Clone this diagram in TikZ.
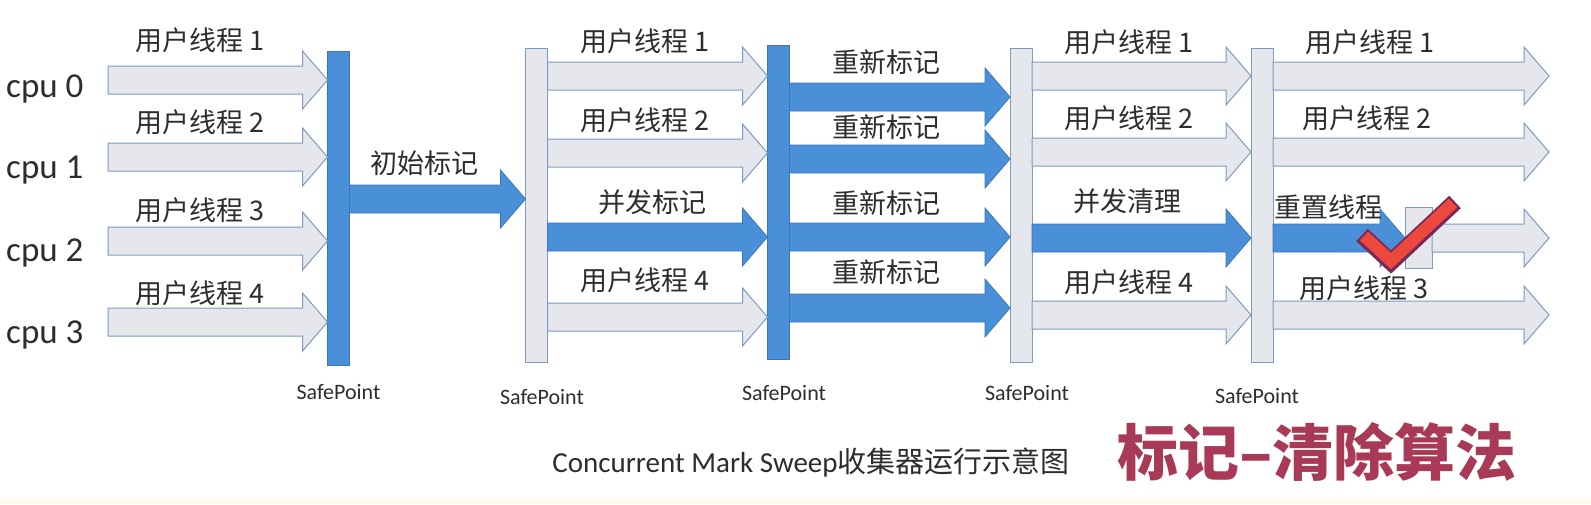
\documentclass[tikz,border=0pt]{standalone}
\usepackage{fontspec}
\setmainfont{Carlito}
\newfontfamily\cjk{Noto Sans CJK SC}
\usetikzlibrary{calc}

\definecolor{gcblue}{RGB}{74,144,217}
\definecolor{gcedge}{RGB}{58,118,188}
\definecolor{thfill}{RGB}{230,231,236}
\definecolor{thedge}{RGB}{125,155,192}
\definecolor{txt}{RGB}{45,45,45}
\definecolor{titlered}{RGB}{168,58,88}
\definecolor{tickred}{RGB}{236,72,62}
\definecolor{tickedge}{RGB}{120,40,90}
\definecolor{cream}{RGB}{254,250,232}

\tikzset{
  thread/.style={fill=thfill,draw=thedge,line width=1pt},
  gcflow/.style={fill=gcblue,draw=gcedge,line width=0.8pt},
  spbar/.style={minimum width=22pt,minimum height=314pt,inner sep=0pt,outer sep=0pt},
  tlabel/.style={font=\cjk\fontsize{27}{27}\selectfont,text=txt,inner sep=0pt},
  cpulabel/.style={font=\fontsize{35}{35}\selectfont,text=txt,inner sep=0pt,anchor=base west},
  splabel/.style={font=\fontsize{22}{22}\selectfont,text=txt,inner sep=0pt},
}
% fat arrow, #2 = start, #3 = tip (same height)
\newcommand\farrow[3]{%
  \path[#1] let \p1=#2, \p2=#3 in
    (\x1,\y1+14pt) -- (\x2-25pt,\y1+14pt) -- (\x2-25pt,\y1+29pt) -- (\x2,\y1)
    -- (\x2-25pt,\y1-29pt) -- (\x2-25pt,\y1-14pt) -- (\x1,\y1-14pt) -- cycle;}

\begin{document}
\begin{tikzpicture}[x=1pt,y=-1pt]
\useasboundingbox (0,0) rectangle (1591,504);
\fill[white] (0,0) rectangle (1591,504);
\fill[cream] (0,500) rectangle (1591,504);

% safepoints
\node[spbar,gcflow] (sp1) at (338.5,208) {};
\node[spbar,thread] (sp2) at (536.5,205) {};
\node[spbar,gcflow] (sp3) at (778.5,202.5) {};
\node[spbar,thread] (sp4) at (1021,205.5) {};
\node[spbar,thread] (sp5) at (1262,205.5) {};
\node[thread,minimum width=27pt,minimum height=61pt,inner sep=0pt,outer sep=0pt] (reset) at (1418.5,237.5) {};
\coordinate (rim) at (1549,0);

% cpus
\foreach \i/\r in {0/97,1/178,2/261,3/343}
  \node[cpulabel] (cpu\i) at (6,\r) {cpu \i};
\foreach \r in {80,157,241,322}
  \farrow{thread}{(108,\r)}{(sp1.west |- 0,\r)};
\foreach \i/\r in {1/40,2/122,3/210,4/293}
  \node[tlabel,anchor=west] (ua\i) at (135,\r) {用户线程 \i};

% initial mark
\farrow{gcflow}{(sp1.east |- 0,199)}{(sp2.west |- 0,199)};
\node[tlabel] (init) at (424,163) {初始标记};

% concurrent mark
\foreach \r in {76,153,317}
  \farrow{thread}{(sp2.east |- 0,\r)}{(sp3.west |- 0,\r)};
\farrow{gcflow}{(sp2.east |- 0,237)}{(sp3.west |- 0,237)};
\foreach \i/\r in {1/41,2/120,4/280}
  \node[tlabel,anchor=west] (ub\i) at (580,\r) {用户线程 \i};
\node[tlabel] (cmark) at (652,202) {并发标记};

% remark
\foreach \r in {97,159,237,308}
  \farrow{gcflow}{(sp3.east |- 0,\r)}{(sp4.west |- 0,\r)};
\foreach \i/\r in {1/62,2/127,3/203,4/272}
  \node[tlabel] (remark\i) at (886,\r) {重新标记};

% concurrent sweep
\foreach \r in {76,152,315}
  \farrow{thread}{(sp4.east |- 0,\r)}{(sp5.west |- 0,\r)};
\farrow{gcflow}{(sp4.east |- 0,238)}{(sp5.west |- 0,238)};
\foreach \i/\r in {1/42,2/118,4/282}
  \node[tlabel,anchor=west] (uc\i) at (1064,\r) {用户线程 \i};
\node[tlabel] (sweep) at (1127,201) {并发清理};

% reset
\foreach \r in {76,152,315}
  \farrow{thread}{(sp5.east |- 0,\r)}{(rim |- 0,\r)};
\farrow{gcflow}{(sp5.east |- 0,238)}{(reset.west |- 0,238)};
\farrow{thread}{(reset.east |- 0,238)}{(rim |- 0,238)};
\node[tlabel,anchor=west] (ud1) at (1305,42) {用户线程 1};
\node[tlabel,anchor=west] (ud2) at (1302,118) {用户线程 2};
\node[tlabel,anchor=west] (ud3) at (1299,288) {用户线程 3};
\node[tlabel] (rst) at (1328,207) {重置线程};

% tick
\draw[tickedge,line width=17pt] (1362,235) -- (1391,262) -- (1455,202);
\draw[tickred,line width=12pt] (1364,236) -- (1391,261) -- (1453,203);

% safepoint labels
\node[splabel] (spt1) at (sp1.south |- 0,392) {SafePoint};
\node[splabel] (spt2) at (542,397) {SafePoint};
\node[splabel] (spt3) at (784,393) {SafePoint};
\node[splabel] (spt4) at (1027,393) {SafePoint};
\node[splabel] (spt5) at (1257,396) {SafePoint};

% caption
\node[font=\fontsize{29}{29}\selectfont,text=txt,inner sep=0pt] (caption) at (811,463)
  {Concurrent Mark Sweep{\cjk 收集器运行示意图}};
\node[font=\cjk\bfseries\fontsize{61}{61}\selectfont,text=titlered,inner sep=0pt] (title) at (1317,452)
  {标记–清除算法};
\end{tikzpicture}
\end{document}
